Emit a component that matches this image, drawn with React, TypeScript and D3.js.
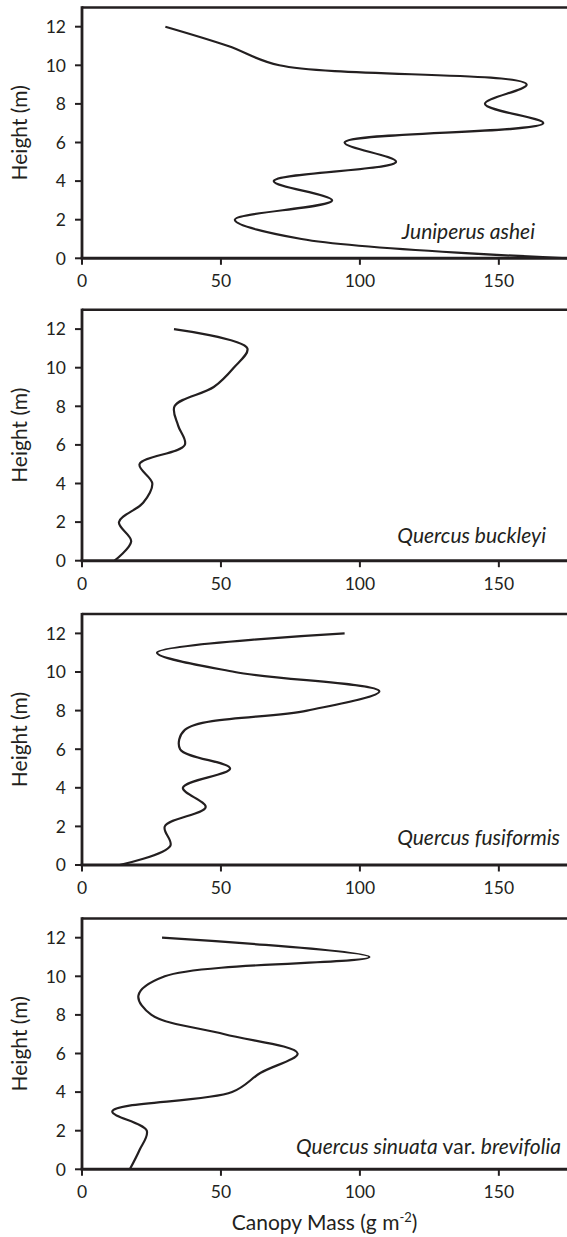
import React from "react";
import * as d3 from "d3";

const heights = [0, 1, 2, 3, 4, 5, 6, 7, 8, 9, 10, 11, 12];
const juniperusAshei = [175, 79, 55, 90, 69, 113, 94.5, 166, 145, 160, 71, 52.6, 30];
const quercusBuckleyi = [11.7, 17.7, 13.3, 22, 25.3, 20.7, 37, 34.6, 33.3, 47.4, 54.6, 59.5, 33.1];
const quercusFusiformis = [13.5, 31.8, 29.8, 44.5, 36.3, 53.3, 35.3, 37, 81, 107, 55, 27, 94.5];
const quercusSinuata = [17.2, 20.7, 23.3, 10.9, 54, 64.3, 77.6, 51.3, 25, 20.3, 29.8, 103.4, 28.8];

const xTicks = [0, 50, 100, 150];
const yTicks = [0, 2, 4, 6, 8, 10, 12];
const yLabel = "Height (m)";

const panels = [
  { values: juniperusAshei, label: [{ t: "Juniperus ashei", it: true }] },
  { values: quercusBuckleyi, label: [{ t: "Quercus buckleyi", it: true }] },
  { values: quercusFusiformis, label: [{ t: "Quercus fusiformis", it: true }] },
  {
    values: quercusSinuata,
    label: [
      { t: "Quercus sinuata", it: true },
      { t: " var. ", it: false },
      { t: "brevifolia", it: true },
    ],
  },
];

// layout
const W = 567;
const H = 1237;
const X0 = 82;
const PX_PER_UNIT = 2.779;
const axisYs = [258.3, 560.7, 865, 1169.3];
const labelEnds = [535, 546, 560, 561];
const labelOffsets = [19.5, 18, 20, 15];
const UNIT_H = 19.3;
const FONT = "Lato, 'Open Sans', sans-serif";
const FS = 17.5;
const LFS = 21;
const INK = "#231f20";

function Panel({ idx }: { idx: number }) {
  const p = panels[idx];
  const base = axisYs[idx];
  const x = d3.scaleLinear().domain([0, 175]).range([X0, X0 + 175 * PX_PER_UNIT]);
  const y = d3.scaleLinear().domain([0, 13]).range([base, base - 13 * UNIT_H]);
  const line = d3
    .line<number>()
    .x((d) => x(d))
    .y((_, i) => y(heights[i]))
    .curve(d3.curveCatmullRom.alpha(0.5));
  const top = y(13);
  const right = x(175);
  return (
    <g>
      <path d={line(p.values) || ""} fill="none" stroke={INK} strokeWidth={2.2} strokeLinejoin="round" />
      <line x1={X0} x2={right} y1={top} y2={top} stroke={INK} strokeWidth={2.5} />
      <line x1={X0} x2={X0} y1={top - 1.2} y2={base} stroke={INK} strokeWidth={2.8} />
      <line x1={X0 - 1.4} x2={right} y1={base} y2={base} stroke={INK} strokeWidth={3} />
      {yTicks.map((t) => (
        <g key={"y" + t}>
          <line x1={X0 - 7} x2={X0} y1={y(t)} y2={y(t)} stroke={INK} strokeWidth={2} />
          <text x={X0 - 16} y={y(t)} dy="0.36em" textAnchor="end" fontFamily={FONT} fontSize={FS} fill={INK}>
            {t}
          </text>
        </g>
      ))}
      {xTicks.map((t) => (
        <g key={"x" + t}>
          <line x1={x(t)} x2={x(t)} y1={base} y2={base + 6.5} stroke={INK} strokeWidth={2} />
          <text x={x(t)} y={base + 29} textAnchor="middle" fontFamily={FONT} fontSize={FS} fill={INK}>
            {t}
          </text>
        </g>
      ))}
      <text
        transform={`translate(27, ${(top + base) / 2}) rotate(-90)`}
        textAnchor="middle"
        fontFamily={FONT}
        fontSize={LFS}
        fill={INK}
      >
        {yLabel}
      </text>
      <text x={labelEnds[idx]} y={base - labelOffsets[idx]} textAnchor="end" fontFamily={FONT} fontSize={LFS} fill={INK}>
        {p.label.map((s, i) => (
          <tspan key={i} fontStyle={s.it ? "italic" : "normal"}>
            {s.t}
          </tspan>
        ))}
      </text>
    </g>
  );
}

export default function App() {
  return (
    <svg
      width={W}
      height={H}
      viewBox={`0 0 ${W} ${H}`}
      style={{ position: "absolute", left: 0, top: 0, background: "#fff" }}
    >
      <rect x={0} y={0} width={W} height={H} fill="#fff" />
      {panels.map((_, i) => (
        <Panel key={i} idx={i} />
      ))}
      <text x={324.6} y={1230} textAnchor="middle" fontFamily={FONT} fontSize={LFS} fill={INK}>
        Canopy Mass (g m
        <tspan dy={-8} fontSize={13}>-2</tspan>
        <tspan dy={8}>)</tspan>
      </text>
    </svg>
  );
}
